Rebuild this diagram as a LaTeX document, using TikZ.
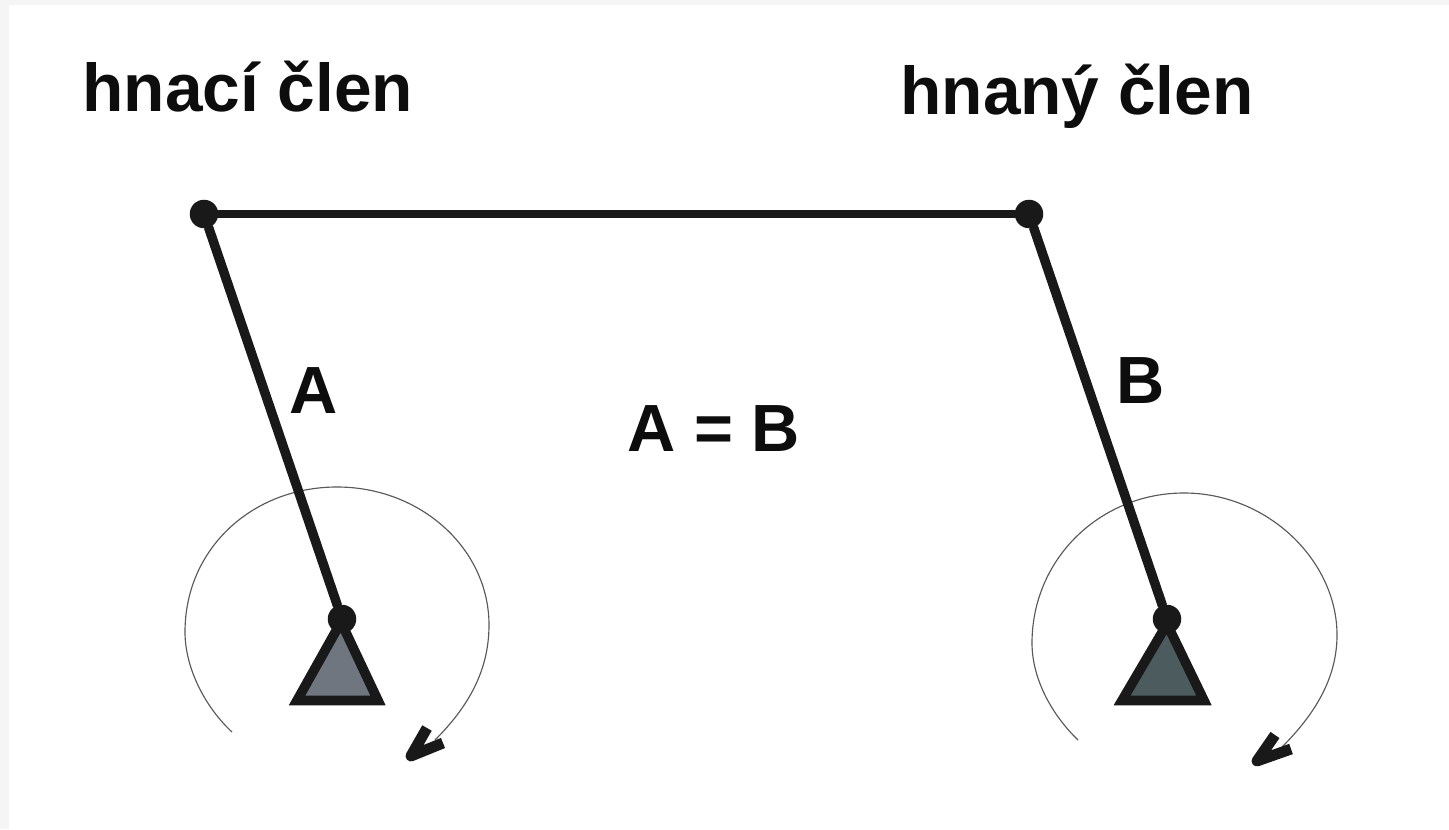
\documentclass[tikz,border=0pt]{standalone}
\usepackage{fontspec}
\setmainfont{Liberation Sans}
\definecolor{supportA}{HTML}{6F7680}
\definecolor{supportB}{HTML}{4C5C5E}
\begin{document}
\begin{tikzpicture}[
		x=0.02cm, y=0.02cm,
		heading/.style={anchor=base west, inner sep=0pt, font=\fontsize{38.5}{41}\selectfont\bfseries, text=black!95},
		letter/.style={anchor=base west, inner sep=0pt, font=\fontsize{38}{41}\selectfont\bfseries, text=black!95},
		joint/.style={circle, fill=black!90, inner sep=0pt, minimum size=0.57cm},
		bar/.style={line width=4.6pt, draw=black!90, line cap=round},
		crank/.style={line width=5.4pt, draw=black!90, line cap=round},
		support/.style={line width=5.5pt, draw=black!90, miter limit=10},
		turn/.style={line width=0.65pt, draw=black!65},
		tip/.style={line width=6.2pt, draw=black!90, line join=round}
		]
		
		\fill[black!4] (0,0) rectangle (1449,829);
		\fill[white] (9,0) rectangle (1449,824);
		
		\node (driving) [heading] at (82,717) {hnací člen};
		\node (driven) [heading] at (900,714) {hnaný člen};
		\node (labelA) [letter] at (289,416) {A};
		\node (labelB) [letter] at (1116,426) {B};
		\node (equal) [letter] at (627,378) {A = B};
		
		\coordinate (startA) at (232,97);
		\coordinate (endA) at (435,89);
		\coordinate (startB) at (1078,89);
		\coordinate (endB) at (1282,82);
		
		\draw[turn] (startA) .. controls (206,121) and (185,160) .. (185,197)
			.. controls (185,281) and (253,342) .. (337,342)
			.. controls (421,342) and (489,280) .. (489,204)
			.. controls (489,157) and (467,121) .. (endA);
		\draw[turn] (startB) .. controls (1052,114) and (1032,150) .. (1032,186)
			.. controls (1032,270) and (1100,336) .. (1184,336)
			.. controls (1268,336) and (1337,268) .. (1337,194)
			.. controls (1337,150) and (1314,114) .. (endB);
		
		\draw[support, fill=supportA] (297,128.5) -- (378,128.5) -- (341,207) -- cycle;
		\draw[support, fill=supportB] (1122,128.5) -- (1204,128.5) -- (1167,205) -- cycle;
		
		\node (topA) [joint] at (204,615) {};
		\node (topB) [joint] at (1029,615) {};
		\node (pivotA) [joint] at (342,210) {};
		\node (pivotB) [joint] at (1167,210) {};
		
		\draw[bar] (topA) -- (topB);
		\draw[crank] (topA) -- (pivotA);
		\draw[crank] (topB) -- (pivotB);
		
		\draw[tip] (427,101) -- (411,73) -- (443,86);
		\draw[tip] (1275,94) -- (1257,68) -- (1291,80);
		
	\end{tikzpicture}
\end{document}
